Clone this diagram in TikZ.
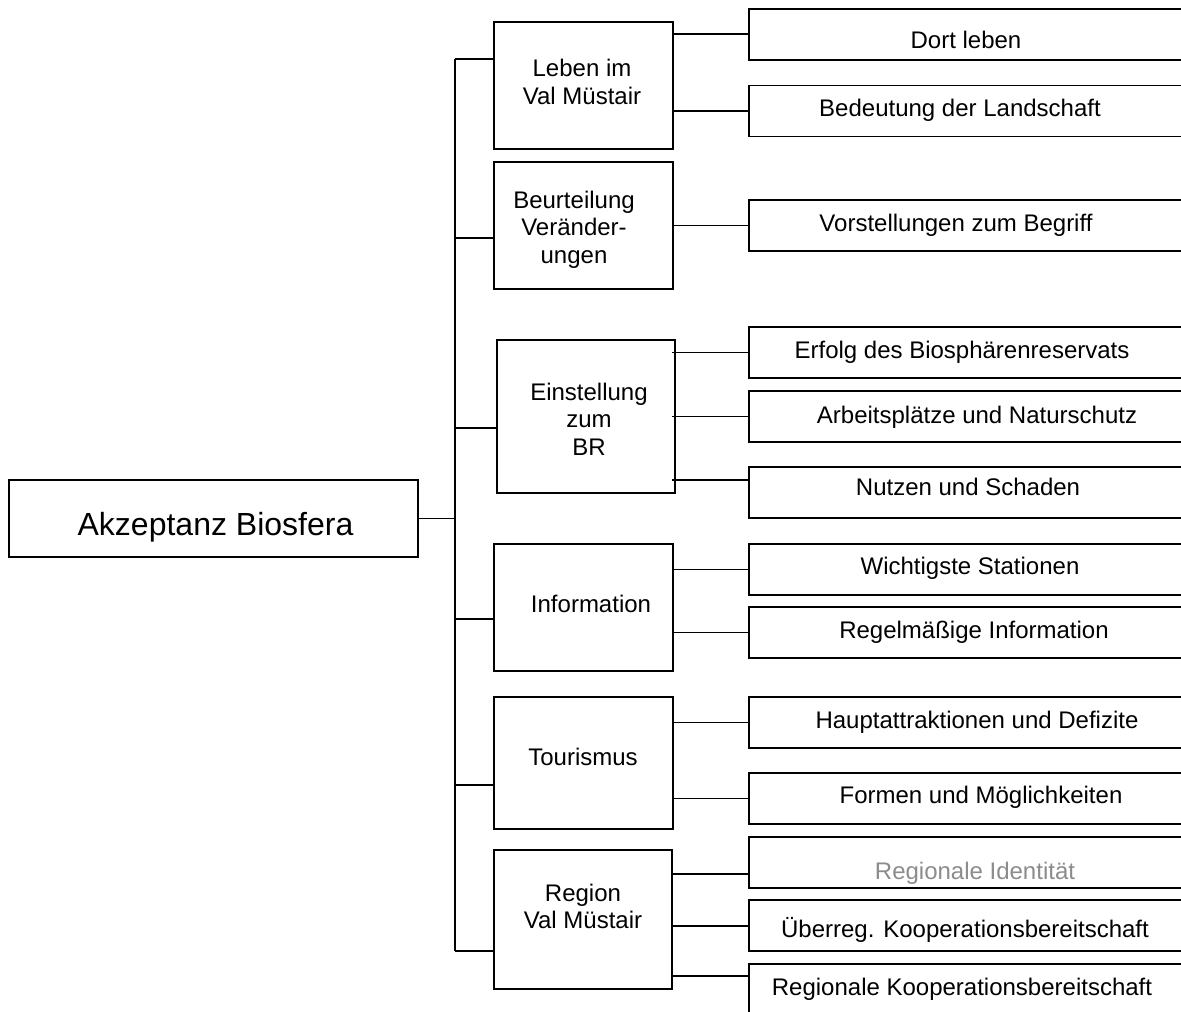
\documentclass[tikz,border=0pt]{standalone}
\usepackage{fontspec}
\setmainfont{Liberation Sans}
\definecolor{idgray}{RGB}{140,140,140}
\begin{document}
\begin{tikzpicture}[x=1pt,y=-1pt,
  box/.style={draw=black, line width=1.7pt, inner sep=0pt},
  midbox/.style={box, minimum width=179pt, minimum height=127pt},
  leafbox/.style={box, minimum width=434pt, minimum height=51pt},
  midtext/.style={font=\fontsize{24}{27.5}\selectfont, align=center, inner sep=0pt},
  leaftext/.style={font=\fontsize{24}{27.5}\selectfont, inner sep=0pt, anchor=base},
  link/.style={draw=black, line width=1.7pt}]
\useasboundingbox (0,0) rectangle (1181,1012);
\fill[white] (0,0) rectangle (1181,1012);
\clip (0,0) rectangle (1181,1012);

% root
\node[box, minimum width=409pt, minimum height=77pt] (root) at (213.7,518.5) {};
\node[font=\fontsize{32}{36}\selectfont, inner sep=0pt, anchor=base] (roott) at (215.5,535) {Akzeptanz Biosfera};

% middle boxes
\node[midbox] (lv) at (583.5,85.5) {};
\node[midbox] (bv) at (583.5,225.5) {};
\node[midbox, minimum width=178pt, minimum height=153pt] (ez) at (586,416.5) {};
\node[midbox] (inf) at (583.5,607.5) {};
\node[midbox, minimum height=132pt] (tou) at (583.5,763) {};
\node[midbox, minimum width=178pt, minimum height=139pt] (reg) at (583,919.5) {};

\node[midtext] (lvt) at (582,82) {Leben im\\Val Müstair};
\node[midtext] (bvt) at (574,229.5) {Beurteilung\\Veränder-\\ungen};
\node[midtext] (ezt) at (589,419) {Einstellung\\zum\\BR};
\node[midtext] (inft) at (591,604) {Information};
\node[midtext] (tout) at (583,757) {Tourismus};
\node[midtext] (regt) at (583,906.5) {Region\\Val Müstair};

% leaf boxes
\node[leafbox] (dl)  at (966,34.5) {};
\node[leafbox] (bl)  at (966,111) {};
\node[leafbox] (vb)  at (966,225.5) {};
\node[leafbox] (eb)  at (966,352.5) {};
\node[leafbox] (an)  at (966,416.5) {};
\node[leafbox] (ns)  at (966,492.5) {};
\node[leafbox] (ws)  at (966,569.5) {};
\node[leafbox] (ri)  at (966,632.5) {};
\node[leafbox] (hd)  at (966,722.5) {};
\node[leafbox] (fm)  at (966,798.5) {};
\node[leafbox] (rid) at (966,862.5) {};
\node[leafbox] (ue)  at (966,925.5) {};
\node[leafbox] (rk)  at (966,989.5) {};

\node[leaftext] (dlt)  at (966,48.3) {Dort leben};
\node[leaftext] (blt)  at (960,116.6) {Bedeutung der Landschaft};
\node[leaftext] (vbt)  at (956,231.6) {Vorstellungen zum Begriff};
\node[leaftext] (ebt)  at (962,358.6) {Erfolg des Biosphärenreservats};
\node[leaftext] (ant)  at (977,423.6) {Arbeitsplätze und Naturschutz};
\node[leaftext] (nst)  at (968,495.6) {Nutzen und Schaden};
\node[leaftext] (wst)  at (970,574.6) {Wichtigste Stationen};
\node[leaftext] (rit)  at (974,638.6) {Regelmäßige Information};
\node[leaftext] (hdt)  at (977,728.6) {Hauptattraktionen und Defizite};
\node[leaftext] (fmt)  at (981,803.6) {Formen und Möglichkeiten};
\node[leaftext, text=idgray] (ridt) at (975,879.6) {Regionale Identität};
\node[leaftext] (uet)  at (965,937.6) {Überreg. Kooperationsbereitschaft};
\node[leaftext] (rkt)  at (962,995.6) {Regionale Kooperationsbereitschaft};

% trunk
\coordinate (b1) at (455,59);
\coordinate (b2) at (455,238);
\coordinate (b3) at (455,428);
\coordinate (b4) at (455,619);
\coordinate (b5) at (455,785);
\coordinate (b6) at (455,951);
\draw[link] (b1) -- (b6);
\draw[link] (root.east) -- (root.east -| b1);
\draw[link] (b1) -- (b1 -| lv.west);
\draw[link] (b2) -- (b2 -| bv.west);
\draw[link] (b3) -- (b3 -| ez.west);
\draw[link] (b4) -- (b4 -| inf.west);
\draw[link] (b5) -- (b5 -| tou.west);
\draw[link] (b6) -- (b6 -| reg.west);

% branches to leaves
\draw[link] ([yshift=0.5pt]dl.west) -- ([yshift=0.5pt]dl.west -| lv.east);
\draw[link] (bl.west) -- (bl.west -| lv.east);
\draw[link] (vb.west) -- (vb.west -| bv.east);
\draw[link] (eb.west) -- ([xshift=-3.5pt]eb.west -| ez.east);
\draw[link] (an.west) -- ([xshift=-3.5pt]an.west -| ez.east);
\draw[link] ([yshift=12.5pt]ns.west) -- ([xshift=-3.5pt,yshift=12.5pt]ns.west -| ez.east);
\draw[link] (ws.west) -- (ws.west -| inf.east);
\draw[link] (ri.west) -- (ri.west -| inf.east);
\draw[link] (hd.west) -- (hd.west -| tou.east);
\draw[link] (fm.west) -- (fm.west -| tou.east);
\draw[link] ([yshift=-11.5pt]rid.west) -- ([yshift=-11.5pt]rid.west -| reg.east);
\draw[link] ([yshift=-0.5pt]ue.west) -- ([yshift=-0.5pt]ue.west -| reg.east);
\draw[link] ([yshift=13.5pt]rk.west) -- ([yshift=13.5pt]rk.west -| reg.east);
\end{tikzpicture}
\end{document}
